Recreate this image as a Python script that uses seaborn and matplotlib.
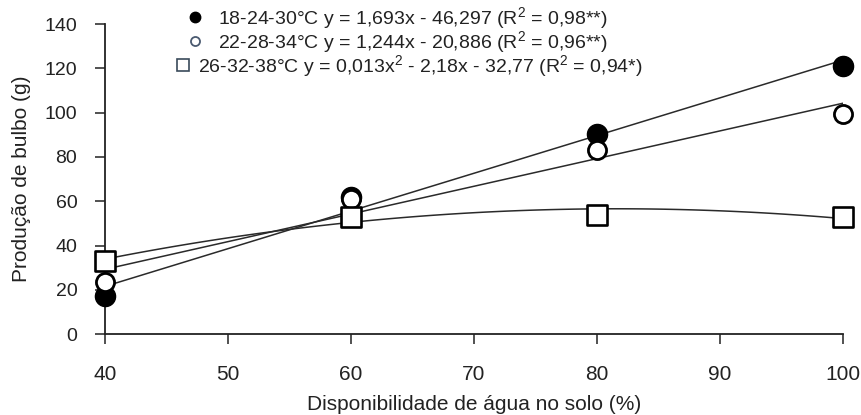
import matplotlib
matplotlib.use("Agg")
import matplotlib.pyplot as plt
import seaborn as sns
import pandas as pd
from matplotlib.lines import Line2D
from matplotlib.legend import Legend

water = [40, 60, 80, 100]
prod_18_24_30 = [17, 62, 90.5, 121]
prod_22_28_34 = [23.5, 61, 83, 99.5]
prod_26_32_38 = [33, 53, 54, 53]

labels = [
    "18-24-30°C y = 1,693x - 46,297 (R$^{2}$ = 0,98**)",
    "22-28-34°C y = 1,244x - 20,886 (R$^{2}$ = 0,96**)",
    "26-32-38°C y = 0,013x$^{2}$ - 2,18x - 32,77 (R$^{2}$ = 0,94*)",
]
xticks = [40, 50, 60, 70, 80, 90, 100]
yticks = [0, 20, 40, 60, 80, 100, 120, 140]

sns.set_theme(style="ticks")
plt.rcParams["font.family"] = ["Liberation Sans", "DejaVu Sans"]
plt.rcParams["mathtext.fontset"] = "custom"
plt.rcParams["mathtext.rm"] = "Liberation Sans"
plt.rcParams["mathtext.it"] = "Liberation Sans"

W, H = 861, 415
fig = plt.figure(figsize=(W / 100, H / 100), dpi=100)
ax = fig.add_axes([0.122, 0.195, 0.857, 0.747])

series = [prod_18_24_30, prod_22_28_34, prod_26_32_38]
orders = [1, 1, 2]
for vals, order in zip(series, orders):
    df = pd.DataFrame({"x": water, "y": vals})
    sns.regplot(data=df, x="x", y="y", order=order, ci=None, scatter=False,
                truncate=True, ax=ax,
                line_kws=dict(color="#2a2a2a", lw=1.1, zorder=2))

styles = [
    dict(marker="o", s=210, facecolor="black", edgecolor="black", linewidth=1),
    dict(marker="o", s=170, facecolor="white", edgecolor="black", linewidth=2.0),
    dict(marker="s", s=190, facecolor="white", edgecolor="black", linewidth=1.9),
]
for i in [2, 0, 1]:
    df = pd.DataFrame({"x": water, "y": series[i]})
    sns.scatterplot(data=df, x="x", y="y", ax=ax, clip_on=False, zorder=3 + i,
                    legend=False, **styles[i])

handles = [
    Line2D([], [], marker="o", ls="none", ms=7.5, mfc="black", mec="black"),
    Line2D([], [], marker="o", ls="none", ms=6.5, mfc="white", mec="#4a5a70", mew=1.3),
    Line2D([], [], marker="s", ls="none", ms=8.5, mfc="white", mec="#3a4a5a", mew=1.2),
]
# (anchor x px, center y px, handletextpad)
leg_pos = [(185, 18, 0.7), (185, 42, 0.7), (173, 66, 0.28)]
for h, lab, (px, py, tp) in zip(handles, labels, leg_pos):
    lg = Legend(ax, [h], [lab], loc="center left",
                bbox_to_anchor=(px / W, 1 - py / H),
                bbox_transform=fig.transFigure, frameon=False, fontsize=14,
                handletextpad=tp, handlelength=1.0, borderpad=0.0,
                borderaxespad=0.0)
    for t in lg.get_texts():
        t.set_color("#222222")
    ax.add_artist(lg)

ax.set_xlim(40, 100)
ax.set_ylim(0, 140)
ax.set_xticks(xticks)
ax.set_yticks(yticks)
ax.tick_params(axis="both", length=7, width=1.1, colors="#222222", direction="out")
ax.tick_params(axis="x", labelsize=15, pad=15)
ax.tick_params(axis="y", labelsize=14, pad=13)
ax.set_xlabel("Disponibilidade de água no solo (%)", fontsize=15, color="#222222",
              labelpad=8)
ax.set_ylabel("Produção de bulbo (g)", fontsize=15, color="#222222", labelpad=10)
for s in ["top", "right"]:
    ax.spines[s].set_visible(False)
for s in ["left", "bottom"]:
    ax.spines[s].set_color("#222222")
    ax.spines[s].set_linewidth(1.3)

fig.savefig("out.png", dpi=100)
